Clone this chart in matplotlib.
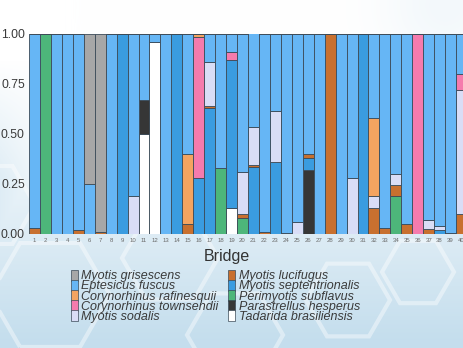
import numpy as np
import matplotlib
matplotlib.use("Agg")
import matplotlib.pyplot as plt
from matplotlib.patches import Patch, RegularPolygon

plt.rcParams["font.family"] = ["Liberation Sans", "DejaVu Sans"]

# ---- data: proportion of each species per bridge -------------------------
bridges = [str(i) for i in range(1, 41)]

species = [
    "Myotis grisescens", "Eptesicus fuscus", "Corynorhinus rafinesquii",
    "Corynorhinus townsendii", "Myotis sodalis", "Myotis lucifugus",
    "Myotis septentrionalis", "Perimyotis subflavus", "Parastrellus hesperus",
    "Tadarida brasiliensis",
]
colors = [
    "#a7a7a7", "#66b6f5", "#f4a460", "#f57bad", "#d9ddf6", "#c8702f",
    "#3a9ce0", "#4db67a", "#363636", "#ffffff",
]

#                1     2    3    4    5     6     7    8    9    10    11    12    13   14   15    16     17    18    19    20    21    22    23    24     25    26    27   28   29   30    31   32    33    34     35    36   37     38    39     40
grisescens    = [0,    0,   0,   0,   0,    0.75, 0.99, 0,  0,   0,    0,    0,    0,   0,   0,    0,     0,    0,    0,    0,    0,    0,    0,    0,     0,    0,    0,   0,   0,   0,    0,   0,    0,    0,     0,    0,   0,     0,    0,     0]
fuscus        = [0.97, 0,   1,   1,   0.98, 0.25, 0,    1,  0,   0.81, 0.33, 0.04, 1,   0,   0.60, 0,     0.14, 0.67, 0.09, 0.69, 0.47, 0.99, 0.385,0.995, 0.94, 0.60, 1,   0,   1,   0.72, 0,   0.42, 0.97, 0.70,  0.95, 0,   0.93,  0.96, 0.995, 0.20]
rafinesquii   = [0,    0,   0,   0,   0,    0,    0,    0,  0,   0,    0,    0,    0,   0,   0.35, 0.013, 0,    0,    0,    0,    0,    0,    0,    0,     0,    0,    0,   0,   0,   0,    0,   0.39, 0,    0,     0,    0,   0,     0,    0,     0]
townsendii    = [0,    0,   0,   0,   0,    0,    0,    0,  0,   0,    0,    0,    0,   0,   0,    0.707, 0,    0,    0.04, 0,    0,    0,    0,    0,     0,    0,    0,   0,   0,   0,    0,   0,    0,    0,     0,    1,   0,     0,    0,     0.08]
sodalis       = [0,    0,   0,   0,   0,    0,    0,    0,  0,   0.19, 0,    0,    0,   0,   0,    0,     0.22, 0,    0,    0.21, 0.19, 0,    0.255,0,     0.06, 0,    0,   0,   0,   0.28, 0,   0.06, 0,    0.055, 0,    0,   0.045, 0.02, 0,     0.62]
lucifugus     = [0.03, 0,   0,   0,   0.02, 0,    0.01, 0,  0,   0,    0,    0,    0,   0,   0.05, 0,     0.01, 0,    0,    0.02, 0.01, 0.01, 0,    0.005, 0,    0.02, 0,   1,   0,   0,    0,   0.13, 0.03, 0.055, 0.05, 0,   0.025, 0,    0,     0.10]
septentrional = [0,    0,   0,   0,   0,    0,    0,    0,  1,   0,    0,    0,    0,   1,   0,    0.28,  0.63, 0,    0.74, 0,    0.335,0,    0.36, 0,     0,    0.06, 0,   0,   0,   0,    1,   0,    0,    0,     0,    0,   0,     0.02, 0,     0]
subflavus     = [0,    1,   0,   0,   0,    0,    0,    0,  0,   0,    0,    0,    0,   0,   0,    0,     0,    0.33, 0,    0.08, 0,    0,    0,    0,     0,    0,    0,   0,   0,   0,    0,   0,    0,    0.19,  0,    0,   0,     0,    0,     0]
hesperus      = [0,    0,   0,   0,   0,    0,    0,    0,  0,   0,    0.17, 0,    0,   0,   0,    0,     0,    0,    0,    0,    0,    0,    0,    0,     0,    0.32, 0,   0,   0,   0,    0,   0,    0,    0,     0,    0,   0,     0,    0.005, 0]
brasiliensis  = [0,    0,   0,   0,   0,    0,    0,    0,  0,   0,    0.50, 0.96, 0,   0,   0,    0,     0,    0,    0.13, 0,    0,    0,    0,    0,     0,    0,    0,   0,   0,   0,    0,   0,    0,    0,     0,    0,   0,     0,    0,     0]

series = [grisescens, fuscus, rafinesquii, townsendii, sodalis, lucifugus,
          septentrional, subflavus, hesperus, brasiliensis]

# ---- figure --------------------------------------------------------------
W, H = 464, 348
fig = plt.figure(figsize=(W / 100, H / 100), dpi=100)

# soft blue backdrop with a honeycomb motif
bg = fig.add_axes([0, 0, 1, 1], zorder=-10)
yy, xx = np.mgrid[0:H, 0:W].astype(float)
t_bottom = np.clip((yy - 110) / 230, 0, 1) ** 0.9
t_left = np.clip(1 - xx / 70, 0, 1) * np.clip((yy - 60) / 120, 0, 1) * 0.55
t_tr = np.exp(-((xx - 445) ** 2 + (yy - 5) ** 2) / (2 * 45 ** 2)) * 0.2
t = np.clip(np.maximum(t_bottom, t_left) + t_tr, 0, 1)[..., None]
white = np.array([1.0, 1.0, 1.0])
blue = np.array([0.77, 0.87, 0.93])
bg.imshow(white * (1 - t) + blue * t, extent=(0, W, H, 0), aspect="auto",
          interpolation="bilinear")
hexes = [(50, 295, 60), (170, 258, 48), (235, 335, 48), (348, 300, 42),
         (418, 272, 36), (-10, 205, 45)]
for cx, cy, r in hexes:
    bg.add_patch(RegularPolygon((cx, cy), 6, radius=r, orientation=np.pi / 6,
                                fill=False, edgecolor="white", lw=3.0,
                                alpha=0.42))
bg.set_xlim(0, W)
bg.set_ylim(H, 0)
bg.axis("off")

ax = fig.add_axes([29 / W, 1 - 234 / H, 438 / W, 200 / H])
ax.patch.set_alpha(0)

x = np.arange(1, len(bridges) + 1)
# stack from the last species at the bottom to the first at the top
bottom = np.zeros(len(bridges))
for name, vals, col in reversed(list(zip(species, series, colors))):
    v = np.array(vals, dtype=float)
    ax.bar(x, v, width=1.0, bottom=bottom, color=col, edgecolor="#3b4a57",
           linewidth=0.6, label=name)
    bottom += v

ax.set_xlim(0.5, len(bridges) + 0.5)
ax.set_ylim(0, 1)
ax.set_xticks(x)
ax.set_xticklabels(bridges, fontsize=4.3, color="#6a6a6a")
ax.set_yticks([0, 0.25, 0.5, 0.75, 1.0])
ax.set_yticklabels(["0.00", "0.25", "0.50", "0.75", "1.00"], fontsize=8.7,
                   color="#3a3a3a")
ax.tick_params(axis="both", length=0)
ax.tick_params(axis="x", pad=3)
ax.tick_params(axis="y", pad=3)
for s in ax.spines.values():
    s.set_visible(False)

fig.text(227 / W, 1 - 256 / H, "Bridge", ha="center", va="center",
         fontsize=11.5, color="#333333")

handles = [Patch(facecolor=c, edgecolor="#3b4a57", linewidth=0.5, label=s)
           for s, c in zip(species, colors)]
fig.legend(handles=handles, ncol=2, loc="upper left",
           bbox_to_anchor=(62 / W, 1 - 261 / H), frameon=False,
           prop={"style": "italic", "size": 9}, labelcolor="#3a3a3a",
           handlelength=0.55, handleheight=0.95, handletextpad=0.3,
           labelspacing=-0.21, columnspacing=0.75, borderpad=0.2)

fig.savefig("out.png", dpi=100)
